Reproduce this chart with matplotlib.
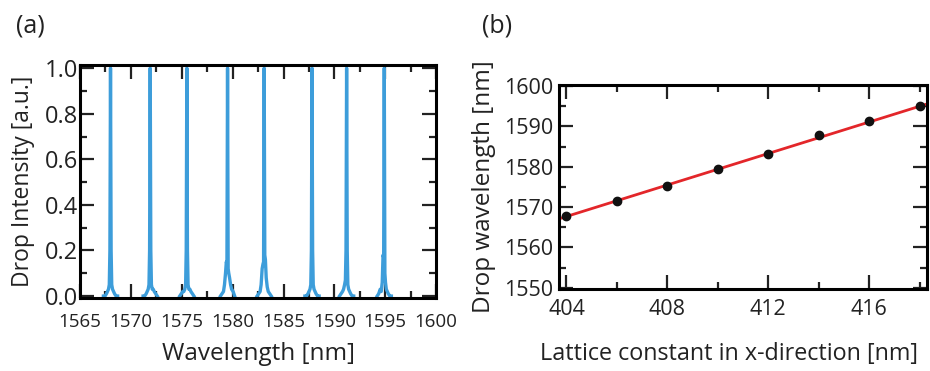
import numpy as np
import matplotlib
matplotlib.use('Agg')
import matplotlib.pyplot as plt
from matplotlib.ticker import MultipleLocator

plt.rcParams['font.family'] = ['Open Sans', 'DejaVu Sans']

# =========================
# DATA (a): drop spectra
# =========================
peak_centers = [1568.0, 1571.9, 1575.5, 1579.5, 1583.1, 1587.8, 1591.2, 1594.9]
peak_offsets = [-0.7, -0.55, -0.4, -0.3, -0.2, -0.12, -0.06, 0.0,
                0.06, 0.12, 0.2, 0.3, 0.4, 0.55, 0.7]
peak_profiles = [
    [0.0, 0.0, 0.01, 0.02, 0.03, 0.05, 0.2, 1.0, 0.2, 0.05, 0.03, 0.02, 0.01, 0.0, 0.0],
    [0.0, 0.0, 0.01, 0.02, 0.03, 0.05, 0.2, 1.0, 0.2, 0.05, 0.03, 0.03, 0.02, 0.01, 0.0],
    [0.0, 0.01, 0.02, 0.02, 0.03, 0.05, 0.2, 1.0, 0.2, 0.05, 0.03, 0.03, 0.02, 0.01, 0.0],
    [0.0, 0.01, 0.02, 0.05, 0.1, 0.15, 0.14, 1.0, 0.12, 0.1, 0.08, 0.05, 0.03, 0.02, 0.0],
    [0.0, 0.01, 0.02, 0.05, 0.12, 0.14, 0.15, 1.0, 0.18, 0.16, 0.08, 0.04, 0.02, 0.01, 0.0],
    [0.0, 0.0, 0.01, 0.02, 0.03, 0.05, 0.2, 1.0, 0.2, 0.05, 0.03, 0.02, 0.01, 0.0, 0.0],
    [0.0, 0.01, 0.02, 0.03, 0.05, 0.07, 0.2, 1.0, 0.2, 0.05, 0.03, 0.02, 0.01, 0.0, 0.0],
    [0.0, 0.01, 0.03, 0.02, 0.06, 0.18, 0.17, 1.0, 0.1, 0.06, 0.03, 0.02, 0.01, 0.0, 0.0],
]

# =========================
# DATA (b): drop wavelength vs lattice constant
# =========================
lattice_const = [404, 406, 408, 410, 412, 414, 416, 418]
drop_wl = [1567.9, 1571.6, 1575.3, 1579.4, 1583.1, 1587.9, 1591.3, 1595.0]
fit_x = [403.8, 418.3]
fit_y = [1567.3, 1595.6]

BLUE = '#3d9dda'
RED = '#e3262a'
TXT = '#222222'


def style_axes(ax):
    for sp in ax.spines.values():
        sp.set_linewidth(2.2)
    ax.tick_params(which='both', direction='in', top=True, right=True,
                   width=1.6, labelsize=15.5, colors=TXT)
    ax.tick_params(which='major', length=10)
    ax.tick_params(which='minor', length=5)


fig = plt.figure(figsize=(9.3, 3.71), dpi=100)

# (a)
ax1 = fig.add_axes([0.086, 0.197, 0.383, 0.628])
for c, prof in zip(peak_centers, peak_profiles):
    ax1.plot(np.array(peak_offsets) + c, prof, color=BLUE, linewidth=2.4)
ax1.set_xlim(1565, 1600)
ax1.set_ylim(-0.008, 1.014)
ax1.xaxis.set_major_locator(MultipleLocator(5))
ax1.xaxis.set_minor_locator(MultipleLocator(2.5))
ax1.yaxis.set_major_locator(MultipleLocator(0.2))
ax1.yaxis.set_minor_locator(MultipleLocator(0.1))
ax1.yaxis.set_major_formatter(plt.FormatStrFormatter('%.1f'))
style_axes(ax1)
ax1.tick_params(axis='x', labelsize=13.5, pad=11)
ax1.tick_params(axis='y', labelsize=17, pad=1.5)
ax1.set_xlabel('Wavelength [nm]', fontsize=17.5, labelpad=8, color=TXT)
ax1.set_ylabel('Drop Intensity [a.u.]', fontsize=16.5, labelpad=7, color=TXT)
fig.text(0.033, 0.93, '(a)', fontsize=18, ha='center', va='center', color=TXT)

# (b)
ax2 = fig.add_axes([0.601, 0.221, 0.396, 0.550])
ax2.plot(fit_x, fit_y, color=RED, linewidth=2.0, zorder=2)
ax2.plot(lattice_const, drop_wl, 'o', color='#111111', markersize=6, zorder=3)
ax2.set_xlim(403.7, 418.3)
ax2.set_ylim(1549.7, 1600.3)
ax2.xaxis.set_major_locator(MultipleLocator(4))
ax2.xaxis.set_minor_locator(MultipleLocator(2))
ax2.yaxis.set_major_locator(MultipleLocator(10))
ax2.yaxis.set_minor_locator(MultipleLocator(5))
style_axes(ax2)
ax2.tick_params(axis='x', pad=7)
ax2.tick_params(axis='y', pad=4)
ax2.set_xlabel('Lattice constant in x-direction [nm]', fontsize=16.8, labelpad=16, color=TXT)
ax2.xaxis.label.set_x(0.462)
ax2.set_ylabel('Drop wavelength [nm]', fontsize=17.5, labelpad=6, color=TXT)
fig.text(0.535, 0.93, '(b)', fontsize=18, ha='center', va='center', color=TXT)

fig.savefig('out.png', dpi=100)
